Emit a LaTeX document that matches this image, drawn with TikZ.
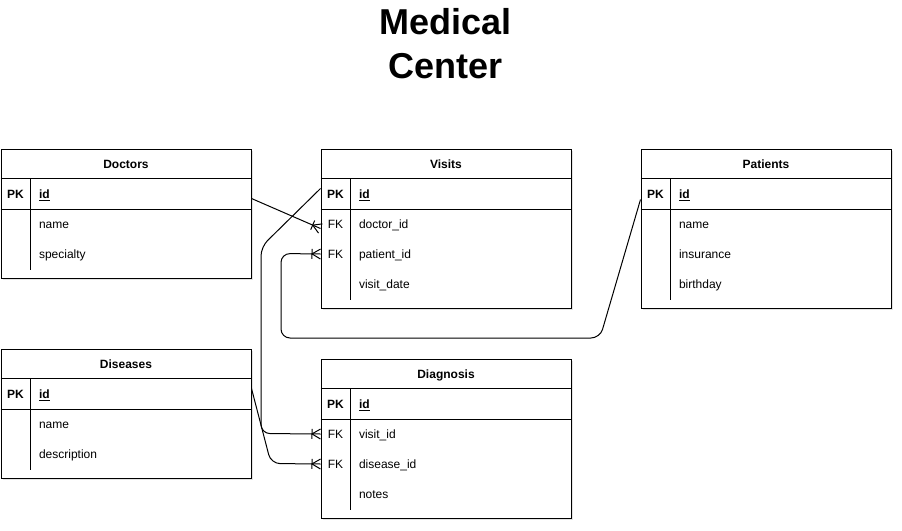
\documentclass[tikz,border=0pt]{standalone}
\usepackage{fontspec}
\setmainfont{Liberation Sans}
\usetikzlibrary{calc,decorations.markings,shadows}
\begin{document}
\begin{tikzpicture}[x=1pt,y=-1pt,line width=1pt,
  tbl/.style={draw,line width=1pt,minimum width=250pt,anchor=north west,inner sep=0pt,fill=white,
     drop shadow={shadow xshift=1.5pt,shadow yshift=-1.5pt,opacity=0.18,fill=black!60}},
  rowbox/.style={minimum width=250pt,minimum height=30pt,anchor=north west,inner sep=0pt},
  ttl/.style={font=\bfseries\fontsize{12}{14}\selectfont,anchor=base,inner sep=0pt},
  keytxt/.style={font=\bfseries\fontsize{12}{14}\selectfont,anchor=base,inner sep=0pt},
  fktxt/.style={font=\fontsize{12}{14}\selectfont,anchor=base,inner sep=0pt},
  fld/.style={font=\fontsize{12}{14}\selectfont,anchor=base west,inner sep=0pt},
  bigtitle/.style={font=\bfseries\fontsize{36}{43}\selectfont,anchor=base,inner sep=0pt},
  rel/.style={draw,line width=1pt,rounded corners=9pt},
  crowfoot/.style={postaction={decorate},decoration={markings,mark=at position 1 with {
     \draw[line width=1pt,sharp corners] (0,-5)--(-8.5,0)--(0,5);
     \draw[line width=1pt,sharp corners] (-8.5,-5)--(-8.5,5);}}}
]
\useasboundingbox (0,0) rectangle (902,530);

% Title
\node[bigtitle] (title1) at (445.5,34) {Medical};
\node[bigtitle] (title2) at (445.5,78) {Center};

% ---------- Doctors ----------
\node[tbl,minimum height=129.5pt] (doc) at (0.5,148.5) {};
\node[rowbox] (doc-h) at (0.5,148.5) {};
\node[ttl] (doc-t) at ($(doc-h.center)+(0,4.8)$) {Doctors};
\node[rowbox] (doc-id) at (0.5,178.5) {};
\draw (doc-id.north west) -- (doc-id.north east) (doc-id.south west) -- (doc-id.south east);
\node[keytxt] (doc-pk) at ($(doc-id.west)+(15,4.8)$) {PK};
\node[fld] (doc-idt) at ($(doc-id.west)+(38,4.8)$) {\bfseries\underline{id}};
\node[rowbox] (doc-r1) at (0.5,208.5) {};
\node[fld] (doc-r1t) at ($(doc-r1.west)+(38,4.8)$) {name};
\node[rowbox] (doc-r2) at (0.5,238.5) {};
\node[fld] (doc-r2t) at ($(doc-r2.west)+(38,4.8)$) {specialty};
\draw ($(doc-id.north west)+(30,0)$) -- ($(doc-r2.south west)+(30,0)$);

% ---------- Visits ----------
\node[tbl,minimum height=159.5pt] (vis) at (320.5,148.5) {};
\node[rowbox] (vis-h) at (320.5,148.5) {};
\node[ttl] (vis-t) at ($(vis-h.center)+(0,4.8)$) {Visits};
\node[rowbox] (vis-id) at (320.5,178.5) {};
\draw (vis-id.north west) -- (vis-id.north east) (vis-id.south west) -- (vis-id.south east);
\node[keytxt] (vis-pk) at ($(vis-id.west)+(15,4.8)$) {PK};
\node[fld] (vis-idt) at ($(vis-id.west)+(38,4.8)$) {\bfseries\underline{id}};
\node[rowbox] (vis-doc) at (320.5,208.5) {};
\node[fktxt] (vis-fk1) at ($(vis-doc.west)+(15,4.8)$) {FK};
\node[fld] (vis-doct) at ($(vis-doc.west)+(38,4.8)$) {doctor\_id};
\node[rowbox] (vis-pat) at (320.5,238.5) {};
\node[fktxt] (vis-fk2) at ($(vis-pat.west)+(15,4.8)$) {FK};
\node[fld] (vis-patt) at ($(vis-pat.west)+(38,4.8)$) {patient\_id};
\node[rowbox] (vis-r3) at (320.5,268.5) {};
\node[fld] (vis-r3t) at ($(vis-r3.west)+(38,4.8)$) {visit\_date};
\draw ($(vis-id.north west)+(30,0)$) -- ($(vis-r3.south west)+(30,0)$);

% ---------- Patients ----------
\node[tbl,minimum height=159.5pt] (pat) at (640.5,148.5) {};
\node[rowbox] (pat-h) at (640.5,148.5) {};
\node[ttl] (pat-t) at ($(pat-h.center)+(0,4.8)$) {Patients};
\node[rowbox] (pat-id) at (640.5,178.5) {};
\draw (pat-id.north west) -- (pat-id.north east) (pat-id.south west) -- (pat-id.south east);
\node[keytxt] (pat-pk) at ($(pat-id.west)+(15,4.8)$) {PK};
\node[fld] (pat-idt) at ($(pat-id.west)+(38,4.8)$) {\bfseries\underline{id}};
\node[rowbox] (pat-r1) at (640.5,208.5) {};
\node[fld] (pat-r1t) at ($(pat-r1.west)+(38,4.8)$) {name};
\node[rowbox] (pat-r2) at (640.5,238.5) {};
\node[fld] (pat-r2t) at ($(pat-r2.west)+(38,4.8)$) {insurance};
\node[rowbox] (pat-r3) at (640.5,268.5) {};
\node[fld] (pat-r3t) at ($(pat-r3.west)+(38,4.8)$) {birthday};
\draw ($(pat-id.north west)+(30,0)$) -- ($(pat-r3.south west)+(30,0)$);

% ---------- Diseases ----------
\node[tbl,minimum height=129.5pt] (dis) at (0.5,348.5) {};
\node[rowbox] (dis-h) at (0.5,348.5) {};
\node[ttl] (dis-t) at ($(dis-h.center)+(0,4.8)$) {Diseases};
\node[rowbox] (dis-id) at (0.5,378.5) {};
\draw (dis-id.north west) -- (dis-id.north east) (dis-id.south west) -- (dis-id.south east);
\node[keytxt] (dis-pk) at ($(dis-id.west)+(15,4.8)$) {PK};
\node[fld] (dis-idt) at ($(dis-id.west)+(38,4.8)$) {\bfseries\underline{id}};
\node[rowbox] (dis-r1) at (0.5,408.5) {};
\node[fld] (dis-r1t) at ($(dis-r1.west)+(38,4.8)$) {name};
\node[rowbox] (dis-r2) at (0.5,438.5) {};
\node[fld] (dis-r2t) at ($(dis-r2.west)+(38,4.8)$) {description};
\draw ($(dis-id.north west)+(30,0)$) -- ($(dis-r2.south west)+(30,0)$);

% ---------- Diagnosis ----------
\node[tbl,minimum height=159.5pt] (dia) at (320.5,358.5) {};
\node[rowbox] (dia-h) at (320.5,358.5) {};
\node[ttl] (dia-t) at ($(dia-h.center)+(0,4.8)$) {Diagnosis};
\node[rowbox] (dia-id) at (320.5,388.5) {};
\draw (dia-id.north west) -- (dia-id.north east) (dia-id.south west) -- (dia-id.south east);
\node[keytxt] (dia-pk) at ($(dia-id.west)+(15,4.8)$) {PK};
\node[fld] (dia-idt) at ($(dia-id.west)+(38,4.8)$) {\bfseries\underline{id}};
\node[rowbox] (dia-vis) at (320.5,418.5) {};
\node[fktxt] (dia-fk1) at ($(dia-vis.west)+(15,4.8)$) {FK};
\node[fld] (dia-vist) at ($(dia-vis.west)+(38,4.8)$) {visit\_id};
\node[rowbox] (dia-dis) at (320.5,448.5) {};
\node[fktxt] (dia-fk2) at ($(dia-dis.west)+(15,4.8)$) {FK};
\node[fld] (dia-dist) at ($(dia-dis.west)+(38,4.8)$) {disease\_id};
\node[rowbox] (dia-r3) at (320.5,478.5) {};
\node[fld] (dia-r3t) at ($(dia-r3.west)+(38,4.8)$) {notes};
\draw ($(dia-id.north west)+(30,0)$) -- ($(dia-r3.south west)+(30,0)$);

% ---------- Connectors ----------
\coordinate (c1) at (261,247);
\coordinate (c2) at (261,433.5);
\coordinate (c3) at (600,338);
\coordinate (c4) at (281,338);
\coordinate (c5) at (281,253.5);
\coordinate (c6) at (271,463.5);

\draw[rel,crowfoot] ($(doc-id.east)+(0,4.5)$) -- ($(vis-doc.west)+(0,4.5)$);
\draw[rel,crowfoot] ($(vis-id.west)+(0,-5.5)$) -- (c1) -- (c2) -- (dia-vis.west);
\draw[rel,crowfoot] ($(pat-id.west)+(0,5.5)$) -- (c3) -- (c4) -- (c5) -- (vis-pat.west);
\draw[rel,crowfoot] ($(dis-id.east)+(0,-5.5)$) -- (c6) -- (dia-dis.west);
\end{tikzpicture}
\end{document}
